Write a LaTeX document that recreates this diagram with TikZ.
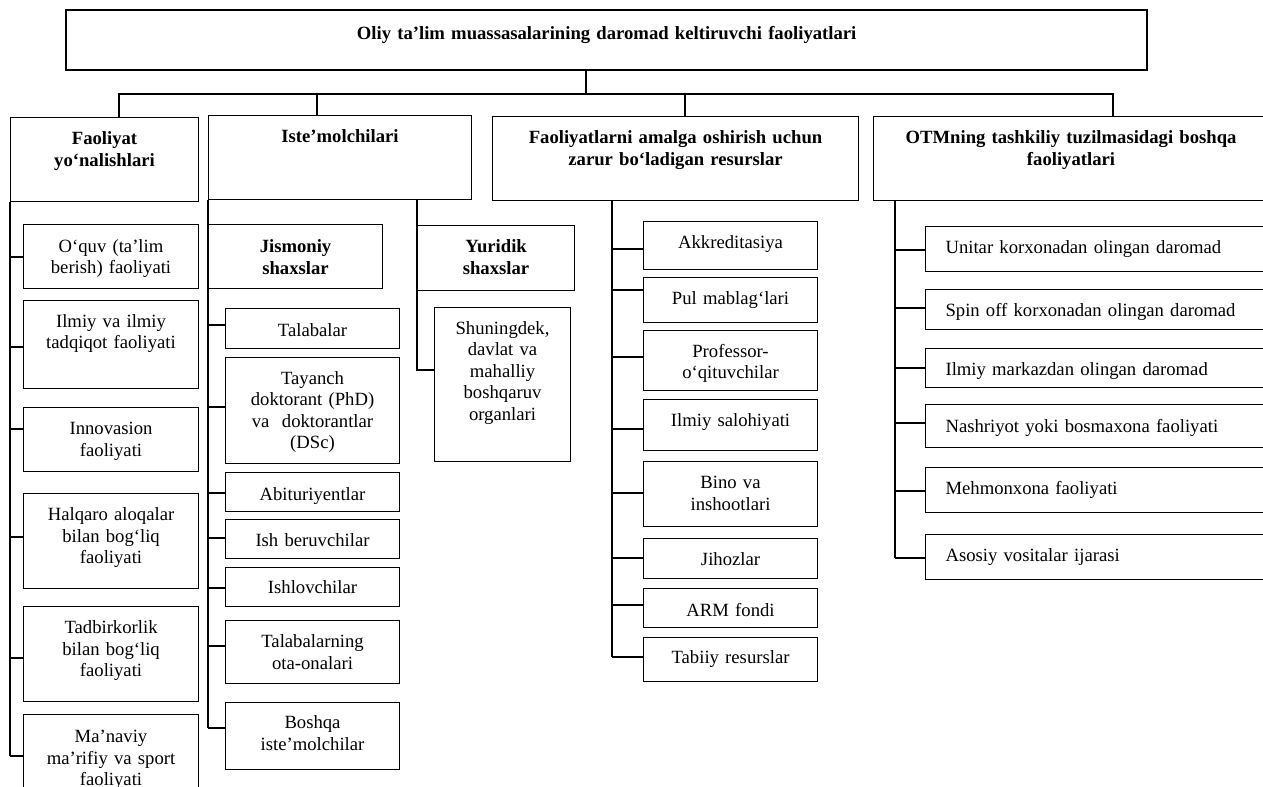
\documentclass[tikz,border=0pt]{standalone}
\usepackage{fontspec}
\setmainfont{Liberation Serif}
\tikzset{
  every node/.style={font=\fontsize{14}{16.1}\selectfont},
  % #1 text width, #2 top, #3 first baseline, #4 bottom (all in px)
  sz/.code n args={4}{%
    \pgfmathsetmacro\tbw{#1*0.75}\pgfmathsetmacro\tbh{(#3-#2)*0.75}\pgfmathsetmacro\tbd{(#4-#3)*0.75}%
    \edef\tbset{\noexpand\tikzset{text width=\tbw pt,text height=\tbh pt,text depth=\tbd pt}}\tbset},
  box/.style={draw,line width=0.8pt,inner xsep=0pt,inner ysep=0pt,align=center,anchor=north west},
  head/.style={box,font=\fontsize{14}{16.6}\selectfont\bfseries},
  leftbox/.style={box,inner xsep=15pt,align=left},
  conn/.style={line width=1.5pt},
  bus/.style={line width=1.1pt}
}
\begin{document}
\begin{tikzpicture}[x=0.75pt,y=-0.75pt]
\useasboundingbox (0,0) rectangle (1263,787);
\clip (0,0) rectangle (1263,787);

\node[head,line width=1.7pt,sz={1081}{9}{38}{69}] (top) at (65,9) {Oliy ta’lim muassasalarining daromad keltiruvchi faoliyatlari};
\node[head,sz={188}{117}{144}{201}] (fao) at (10,117) {Faoliyat\\yo‘nalishlari};
\node[head,sz={263}{115}{142}{199}] (ist) at (208,115) {Iste’molchilari};
\node[head,sz={366}{116}{143}{200}] (res) at (492,116) {Faoliyatlarni amalga oshirish uchun\\zarur bo‘ladigan resurslar};
\node[head,sz={395}{116}{143}{200}] (otm) at (873,116) {OTMning tashkiliy tuzilmasidagi boshqa\\faoliyatlari};

\coordinate (bus) at (586,94);
\draw[bus] (top.south -| bus) -- (bus);
\draw[bus] (fao.north -| 119,0) |- (bus) -| (otm.north -| 1113,0);
\draw[bus] (bus -| 317,0) -- (ist.north -| 317,0);
\draw[bus] (bus -| 685,0) -- (res.north -| 685,0);

% faoliyat yo'nalishlari
\coordinate (spA) at (fao.south west);
\foreach \nm/\ya/\yb/\bl/\cy/\txt in {
  ouq/224/288/252/257/{O‘quv (ta’lim\\berish) faoliyati},
  ilt/300/388/327/347/{Ilmiy va ilmiy\\tadqiqot faoliyati},
  inn/407/471/434/429/{Innovasion\\faoliyati},
  hal/493/588/520/537/{Halqaro aloqalar\\bilan bog‘liq\\faoliyati},
  tad/606/701/633/658/{Tadbirkorlik\\bilan bog‘liq\\faoliyati},
  man/714/800/742/756/{Ma’naviy\\ma’rifiy va sport\\faoliyati}}{
  \node[box,sz={175}{\ya}{\bl}{\yb}] (\nm) at (23,\ya) {\txt};
  \draw[conn] (spA |- 0,\cy) -- (\nm.west |- 0,\cy);
}
\draw[conn] (spA) -- (spA |- 0,756);

% iste'molchilar
\coordinate (spB) at (ist.south west);
\node[head,sz={174}{224}{252}{288}] (jis) at (208,224) {Jismoniy\\shaxslar};
\foreach \nm/\ya/\yb/\bl/\cy/\txt in {
  tal/308/348/336/325/{Talabalar},
  tay/357/463/384/407/{Tayanch\\doktorant (PhD)\\va~ doktorantlar\\(DSc)},
  abi/472/511/500/493/{Abituriyentlar},
  isb/519/558/546/538/{Ish beruvchilar},
  isl/567/606/593/588/{Ishlovchilar},
  ota/620/683/647/646/{Talabalarning\\ota-onalari},
  bos/702/769/728/728/{Boshqa\\iste’molchilar}}{
  \node[box,sz={174}{\ya}{\bl}{\yb}] (\nm) at (225,\ya) {\txt};
  \draw[conn] (spB |- 0,\cy) -- (\nm.west |- 0,\cy);
}
\draw[conn] (spB) -- (spB |- 0,728);

\node[head,sz={157}{225}{252}{290}] (yur) at (417,225) {Yuridik\\shaxslar};
\node[box,sz={136}{307}{334}{461}] (shu) at (434,307) {Shuningdek,\\davlat va\\mahalliy\\boshqaruv\\organlari};
\draw[conn] (ist.south -| yur.west) |- (shu.west |- 0,370);

% resurslar
\coordinate (spC) at (res.south -| 612,0);
\foreach \nm/\ya/\yb/\bl/\cy/\txt in {
  akk/221/269/248/249/{Akkreditasiya},
  pul/277/322/304/290/{Pul mablag‘lari},
  pro/330/390/357/357/{Professor-\\o‘qituvchilar},
  sal/399/450/426/429/{Ilmiy salohiyati},
  bin/461/526/488/493/{Bino va\\inshootlari},
  jih/538/578/565/558/{Jihozlar},
  arm/588/627/616/605/{ARM fondi},
  tab/637/681/663/657/{Tabiiy resurslar}}{
  \node[box,sz={174}{\ya}{\bl}{\yb}] (\nm) at (643,\ya) {\txt};
  \draw[conn] (spC |- 0,\cy) -- (\nm.west |- 0,\cy);
}
\draw[conn] (spC) -- (spC |- 0,657);

% boshqa faoliyatlar
\coordinate (spD) at (otm.south -| 895,0);
\foreach \nm/\ya/\yb/\bl/\cy/\txt in {
  uni/226/271/253/250/{Unitar korxonadan olingan daromad},
  spi/289/329/316/308/{Spin off korxonadan olingan daromad},
  ilc/348/387/375/368/{Ilmiy markazdan olingan daromad},
  nas/404/447/432/423/{Nashriyot yoki bosmaxona faoliyati},
  meh/467/512/494/491/{Mehmonxona faoliyati},
  aso/534/579/561/558/{Asosiy vositalar ijarasi}}{
  \node[leftbox,sz={303}{\ya}{\bl}{\yb}] (\nm) at (925,\ya) {\txt};
  \draw[conn] (spD |- 0,\cy) -- (\nm.west |- 0,\cy);
}
\draw[conn] (spD) -- (spD |- 0,558);
\end{tikzpicture}
\end{document}
